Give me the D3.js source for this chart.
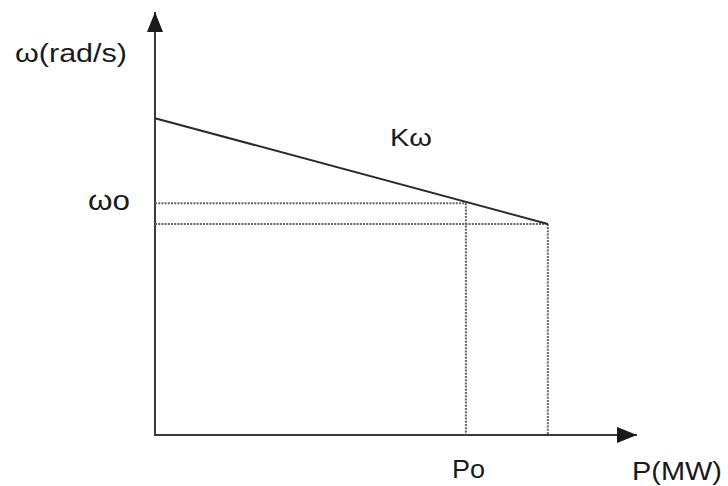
<!DOCTYPE html>
<html>
<head>
<meta charset="utf-8">
<script src="https://cdn.jsdelivr.net/npm/d3@7"></script>
<style>
  html, body { margin: 0; padding: 0; background: #fff; }
  svg text { font-family: "Liberation Sans", Arial, sans-serif; fill: #1a1a1a; }
</style>
</head>
<body>
<svg id="chart" width="728" height="486"></svg>
<script>
// Droop characteristic: speed ω versus power P
const pDomain = [0, 10];
const wDomain = [0, 10];
const droopP = [0, 8.15];        // power at no-load and at full droop
const droopW = [7.49, 4.99];     // speed at those powers
const operatingP = [6.45];       // Po
const operatingW = [5.48];       // ωo
const axisLabels = ["ω(rad/s)", "P(MW)"];
const pointLabels = ["ωo", "Po", "Kω"];

const svg = d3.select("#chart");
const x = d3.scaleLinear().domain(pDomain).range([155, 637]);
const y = d3.scaleLinear().domain(wDomain).range([435, 12]);

const defs = svg.append("defs");
defs.append("marker")
  .attr("id", "arrow")
  .attr("viewBox", "0 0 20 16")
  .attr("refX", 20).attr("refY", 8)
  .attr("markerWidth", 20).attr("markerHeight", 16)
  .attr("markerUnits", "userSpaceOnUse")
  .attr("orient", "auto")
  .append("path").attr("d", "M0,0 L20,8 L0,16 Z").attr("fill", "#1a1a1a");

const axisColor = "#3a3a3a";

// Axes
svg.append("line")
  .attr("x1", x(0)).attr("y1", y(0)).attr("x2", x(0)).attr("y2", y(wDomain[1]))
  .attr("stroke", axisColor).attr("stroke-width", 2).attr("marker-end", "url(#arrow)");
svg.append("line")
  .attr("x1", x(0) - 1).attr("y1", y(0)).attr("x2", x(pDomain[1])).attr("y2", y(0))
  .attr("stroke", axisColor).attr("stroke-width", 2).attr("marker-end", "url(#arrow)");

// Dotted guides
const guide = (x1, y1, x2, y2) => svg.append("line")
  .attr("x1", x1).attr("y1", y1).attr("x2", x2).attr("y2", y2)
  .attr("stroke", "#666").attr("stroke-width", 2).attr("stroke-dasharray", "2,1.2");

guide(x(0), y(operatingW[0]), x(operatingP[0]), y(operatingW[0]));
guide(x(0), y(droopW[1]), x(droopP[1]), y(droopW[1]));
guide(x(operatingP[0]), y(operatingW[0]), x(operatingP[0]), y(0));
guide(x(droopP[1]), y(droopW[1]), x(droopP[1]), y(0));

// Droop line
const line = d3.line().x(d => x(d[0])).y(d => y(d[1]));
svg.append("path")
  .datum(droopP.map((p, i) => [p, droopW[i]]))
  .attr("d", line)
  .attr("fill", "none").attr("stroke", "#2a2a2a").attr("stroke-width", 2);

// Labels (slightly wide lettering)
const label = (tx, ty, size, width, s) => svg.append("text")
  .attr("x", tx).attr("y", ty).attr("font-size", size)
  .attr("textLength", width).attr("lengthAdjust", "spacingAndGlyphs")
  .text(s);

label(15, 62, 26, 112, axisLabels[0]);
label(632, 480, 26, 90, axisLabels[1]);
label(88, 210, 27, 42, pointLabels[0]);
label(452, 478, 26, 33, pointLabels[1]);
label(390, 146, 23, 42, pointLabels[2]);
</script>
</body>
</html>
